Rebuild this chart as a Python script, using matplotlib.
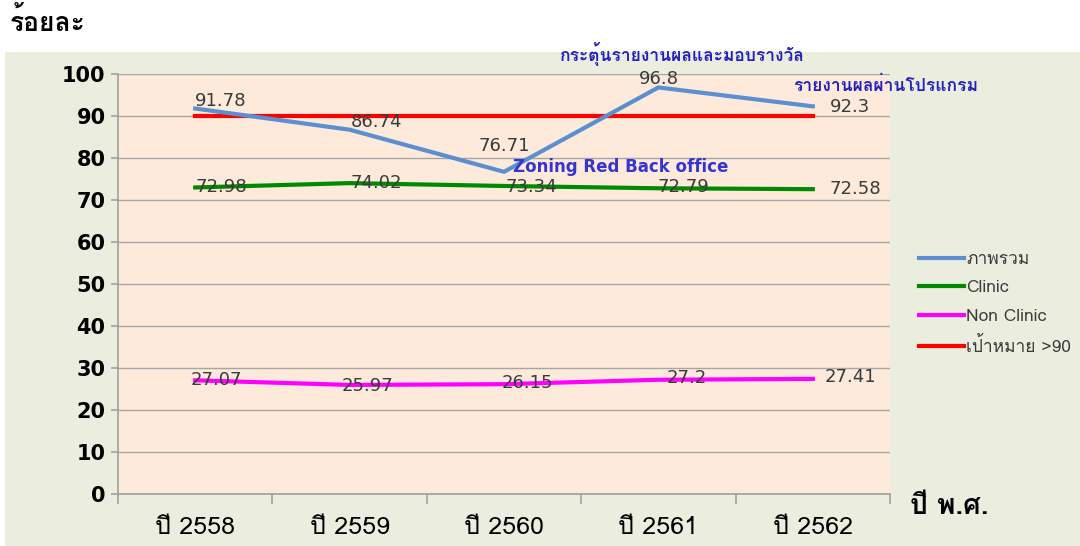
import matplotlib
matplotlib.use("Agg")
import matplotlib.pyplot as plt
from matplotlib import font_manager
from matplotlib.ft2font import FT2Font
from matplotlib.patches import Rectangle
from matplotlib.lines import Line2D

# look for any installed font that has Thai letters
thai_fams = []
for f in font_manager.fontManager.ttflist:
    try:
        if 0x0E01 in FT2Font(f.fname).get_charmap() and f.name not in thai_fams:
            thai_fams.append(f.name)
    except Exception:
        pass

plt.rcParams['font.family'] = ['DejaVu Sans'] + thai_fams[:1]
th_fam = thai_fams[:1] + ['DejaVu Sans']   # thai font first, for thai text

# data
years = ['ปี 2558', 'ปี 2559', 'ปี 2560', 'ปี 2561', 'ปี 2562']
overall = [91.78, 86.74, 76.71, 96.8, 92.3]
clinic = [72.98, 74.02, 73.34, 72.79, 72.58]
non_clinic = [27.07, 25.97, 26.15, 27.2, 27.41]
target = [90, 90, 90, 90, 90]
series_names = ['ภาพรวม', 'Clinic', 'Non Clinic', 'เป้าหมาย >90']

# label offsets in pixels (dx, dy)
overall_off = [(25, 8), (27, 8), (0, 26), (0, 8), (37, -1)]
clinic_off = [(26, 0), (27, 0), (27, -1), (25, 1), (43, 0)]
nonclinic_off = [(21, 0), (18, -1), (23, 1), (28, 2), (38, 2)]

fig = plt.figure(figsize=(10.8, 5.46), dpi=100)
fig.patch.set_facecolor('white')
fig.patches.append(Rectangle((5/1080, 0), 1, (546-52)/546, transform=fig.transFigure,
                             facecolor='#EBEEDF', edgecolor='none', zorder=-10))

ax = fig.add_axes([118/1080, 52/546, 772/1080, 420/546])
ax.set_facecolor('#FDEADB')

x = list(range(len(years)))
ax.plot(x, target, color='#FF0000', lw=3, zorder=3)
ax.plot(x, overall, color='#5B8FCF', lw=3, zorder=4)
ax.plot(x, clinic, color='#008A00', lw=3, zorder=4)
ax.plot(x, non_clinic, color='#FF00FF', lw=3, zorder=4)

def put_labels(vals, offs):
    for xi, v, (dx, dy) in zip(x, vals, offs):
        ax.annotate(f'{v:g}', (xi, v), xytext=(dx * 0.72, dy * 0.72), textcoords='offset points',
                    ha='center', va='center', fontsize=13, color='#3A3A3A', zorder=5)

put_labels(overall, overall_off)
put_labels(clinic, clinic_off)
put_labels(non_clinic, nonclinic_off)

ax.set_xlim(-0.5, 4.5)
ax.set_ylim(0, 100)
ax.set_yticks(range(0, 101, 10))
ax.yaxis.grid(True, color='#A6A6A6', lw=1)
ax.set_axisbelow(True)
for s in ['top', 'right']:
    ax.spines[s].set_visible(False)
for s in ['left', 'bottom']:
    ax.spines[s].set_color('#A0A0A0')
    ax.spines[s].set_linewidth(1.2)

ax.set_xticks(x)
ax.set_xticklabels(years, fontsize=18, family=th_fam)
ax.set_xticks([i - 0.5 for i in range(len(years) + 1)], minor=True)
ax.tick_params(axis='x', which='major', length=0, pad=16)
ax.tick_params(axis='x', which='minor', length=7, color='#A0A0A0', width=1.2)
ax.tick_params(axis='y', length=5, color='#A0A0A0', width=1.2, pad=4)
for t in ax.get_yticklabels():
    t.set_fontsize(15)
    t.set_fontweight('bold')

fig.text(10/1080, 1 - 22/546, 'ร้อยละ', fontsize=19, fontweight='bold', va='center', ha='left',
         family=th_fam)
fig.text(910/1080, 1 - 506/546, 'ปี พ.ศ.', fontsize=20, fontweight='bold', va='center', ha='left',
         family=th_fam)

ax.text(2.06, 75.6, 'Zoning Red Back office', color='#3535D0', fontsize=12, fontweight='bold',
        ha='left', va='bottom', zorder=6)
ax.text(2.36, 101.8, 'กระตุ้นรายงานผลและมอบรางวัล', color='#2020C0', fontsize=12.5, fontweight='bold',
        ha='left', va='bottom', clip_on=False, family=th_fam)
ax.text(4.47, 95.3, 'รายงานผลผ่านโปรแกรม', color='#2020C0', fontsize=12.5, fontweight='bold',
        ha='center', va='bottom', clip_on=False, family=th_fam)

handles = [Line2D([], [], color=c, lw=3) for c in ['#5B8FCF', '#008A00', '#FF00FF', '#FF0000']]
leg = fig.legend(handles, series_names, loc='center left', bbox_to_anchor=(903/1080, 1 - 304/546),
                 frameon=False, handlelength=2.6, handletextpad=0.15, labelspacing=0.7,
                 labelcolor='#3A3A3A', prop={'family': th_fam, 'size': 12.5})

fig.savefig('out.png', dpi=100, facecolor=fig.get_facecolor())
